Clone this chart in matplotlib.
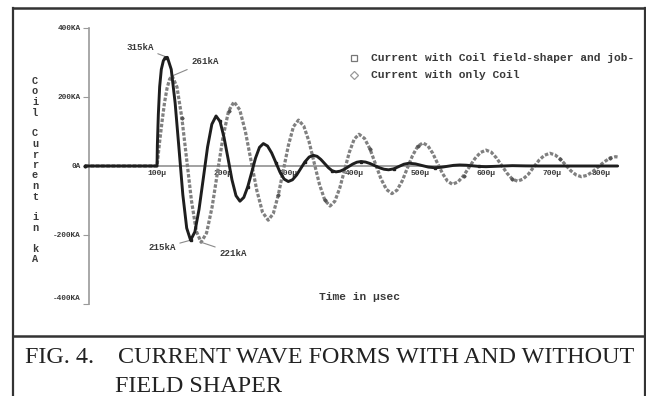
import matplotlib
matplotlib.use('Agg')
import matplotlib.pyplot as plt
from matplotlib.transforms import ScaledTranslation

# ---------------- data ----------------
t_shaper = [-9, 100, 100.5, 102, 104, 106.5, 109.6, 112.5, 115.7,
            121.6, 127.5, 133.4, 139.2, 145.1, 151,
            157.5, 163.9, 170.4, 176.8, 183.3, 189.7,
            195.8, 201.8, 207.9, 213.9, 220, 226,
            231.9, 237.9, 243.8, 249.7, 255.7, 261.6,
            267.9, 274.2, 280.6, 286.9, 293.2, 299.5,
            305.8, 312.2, 318.5, 324.8, 331.2, 337.5,
            343.3, 349, 354.8, 360.5, 366.3, 372,
            378.3, 384.7, 391, 397.3, 403.7, 410,
            417, 424, 431, 438, 445, 452,
            459.8, 467.5, 475.3, 483,
            492.8, 502.5, 512.3, 522,
            531.5, 541, 550.5, 560,
            570, 580, 590, 600, 620, 640, 660, 680, 800]
i_shaper = [0, 0, 60, 150, 230, 280, 305, 314, 315,
            280, 183, 50, -83, -180, -215,
            -191, -125, -35, 55, 121, 145,
            129, 83, 22, -40, -86, -102,
            -91, -60, -19, 23, 54, 65,
            58, 38, 10, -18, -38, -45,
            -40, -26, -7, 12, 26, 31,
            28, 19, 7, -5, -14, -17,
            -15, -9.5, -2, 5.5, 11, 13,
            11.4, 7, 1, -5, -9.4, -11,
            -8.2, -1.5, 5.2, 8,
            6.1, 1.5, -3.1, -5,
            -3.8, -1, 1.8, 3,
            2.3, 0.5, -1.3, -2, -0.5, 1, 0.3, 0, 0]

t_coil = [-9, 100, 103.8, 107.7, 111.5, 115.3, 119.2, 123,
          130.3, 137.7, 145, 152.3, 159.7, 167,
          175.3, 183.7, 192, 200.3, 208.7, 217,
          225.7, 234.3, 243, 251.7, 260.3, 269,
          276.7, 284.3, 292, 299.7, 307.3, 315,
          323, 331, 339, 347, 355, 363,
          370.3, 377.7, 385, 392.3, 399.7, 407,
          415.3, 423.7, 432, 440.3, 448.7, 457,
          464.8, 472.7, 480.5, 488.3, 496.2, 504,
          511.5, 519, 526.5, 534, 541.5, 549,
          557.5, 566, 574.5, 583, 591.5, 600,
          608, 616, 624, 632, 640, 648,
          656.2, 664.3, 672.5, 680.7, 688.8, 697,
          705, 713, 721, 729, 737, 745,
          753.7, 762.3, 771, 779.7, 788.3, 797, 800]
i_coil = [0, 0, 68, 130, 185, 226, 252, 261,
          229, 140, 20, -100, -189, -221,
          -194, -119, -17, 84, 159, 186,
          163, 100, 14, -71, -134, -157,
          -138, -84, -12, 60, 114, 133,
          116, 71, 8, -54, -99, -116,
          -102, -64, -12, 40, 78, 92,
          80, 49, 6, -37, -68, -80,
          -70, -43, -6, 30, 57, 67,
          59, 37, 7, -22, -44, -53,
          -46, -28, -3, 21, 39, 46,
          40, 23, 1, -21, -38, -44,
          -38, -24, -3, 17, 31, 37,
          32, 20, 3, -14, -26, -31,
          -27, -16, -2, 12, 23, 27, 26]

y_ticks = [-400, -200, 0, 200, 400]
y_tick_labels = ['-400KA', '-200KA', '0A', '200KA', '400KA']
x_ticks = [100, 200, 300, 400, 500, 600, 700, 800]
x_tick_labels = ['100µ', '200µ', '300µ', '400µ', '500µ', '600µ', '700µ', '800µ']

series_labels = ['Current with Coil field-shaper and job-', 'Current with only Coil']
peak_texts = ['315kA', '261kA', '215kA', '221kA']
peak_t = [115.7, 123, 151, 167]
peak_i = [315, 261, -215, -221]

# ---------------- figure ----------------
W, H = 646, 396
fig = plt.figure(figsize=(W / 100, H / 100), dpi=100)
fig.patch.set_facecolor('white')

def fx(px):
    return px / W

def fy(py):
    return 1 - py / H

MONO = ['Liberation Mono', 'DejaVu Sans Mono']
TXT = '#3a3a3a'

ax = fig.add_axes([fx(88.6), fy(304), (617.6 - 88.6) / W, (304 - 28) / H])
ax.set_xlim(-4, 800)
ax.set_ylim(-400, 400)
ax.patch.set_alpha(0)

for s in ['top', 'right']:
    ax.spines[s].set_visible(False)
ax.spines['left'].set_color('#9a9a9a')
ax.spines['left'].set_linewidth(1.2)
ax.spines['bottom'].set_position(('data', 0))
ax.spines['bottom'].set_color('#9a9a9a')
ax.spines['bottom'].set_linewidth(1.3)
ax.spines['bottom'].set_bounds(-4, 800)

ax.plot(t_coil, i_coil, color='#808080', lw=2.3, linestyle=(0, (1.1, 0.55)),
        marker='D', markersize=1.6, markevery=9, markerfacecolor='#555555',
        markeredgecolor='#555555', clip_on=False, zorder=3)
ax.plot(t_shaper, i_shaper, color='#1e1e1e', lw=2.1, solid_capstyle='round',
        solid_joinstyle='round',
        marker='s', markersize=1.8, markevery=7, clip_on=False, zorder=4)

ax.set_yticks(y_ticks)
ax.set_yticklabels(y_tick_labels)
ax.set_xticks(x_ticks)
ax.set_xticklabels(x_tick_labels)
ax.tick_params(axis='y', direction='out', length=4, width=0.8, color='#9a9a9a',
               pad=1.5, labelsize=5.6, labelcolor=TXT)
ax.tick_params(axis='x', direction='out', length=0, pad=3, labelsize=5.8,
               labelcolor=TXT)
for lab in ax.get_yticklabels() + ax.get_xticklabels():
    lab.set_fontfamily(MONO)
    lab.set_fontweight('bold')
# nudge the end labels as in the reference
ylabs = ax.get_yticklabels()
ylabs[0].set_transform(ylabs[0].get_transform() + ScaledTranslation(0, 7 / 100, fig.dpi_scale_trans))
xlabs = ax.get_xticklabels()
xlabs[-1].set_transform(xlabs[-1].get_transform() + ScaledTranslation(-16 / 100, 0, fig.dpi_scale_trans))

# peak annotations
text_pos = [(140, 47), (205, 62), (162, 248), (233, 253)]
for txt, tt, ii, (px, py) in zip(peak_texts, peak_t, peak_i, text_pos):
    ax.annotate(txt, xy=(tt, ii), xycoords='data',
                xytext=(px, H - py), textcoords='figure pixels',
                ha='center', va='center', fontsize=6.6, fontfamily=MONO,
                fontweight='bold', color=TXT,
                arrowprops=dict(arrowstyle='-', color='#8a8a8a', lw=0.8,
                                shrinkA=1, shrinkB=0))

# legend (drawn as text + markers)
fig.text(fx(371), fy(58), series_labels[0], fontsize=8.1, fontfamily=MONO,
         fontweight='bold', color=TXT, ha='left', va='center')
fig.text(fx(371), fy(75), series_labels[1], fontsize=8.1, fontfamily=MONO,
         fontweight='bold', color=TXT, ha='left', va='center')
fig.lines.append(plt.Line2D([fx(354)], [fy(58)], marker='s', markersize=4,
                            markerfacecolor='white', markeredgecolor='#777777',
                            markeredgewidth=0.9, transform=fig.transFigure))
fig.lines.append(plt.Line2D([fx(354)], [fy(75)], marker='D', markersize=3.6,
                            markerfacecolor='white', markeredgecolor='#999999',
                            markeredgewidth=0.9, transform=fig.transFigure))

# axis titles
fig.text(fx(319), fy(297), 'Time in µsec', fontsize=8.1, fontfamily=MONO,
         fontweight='bold', color=TXT, ha='left', va='center')
ylab_chars = ['C', 'o', 'i', 'l', '', 'C', 'u', 'r', 'r', 'e', 'n', 't', '',
              'i', 'n', '', 'k', 'A']
for k, ch in enumerate(ylab_chars):
    if ch:
        fig.text(fx(35), fy(81 + k * 10.5), ch, fontsize=7.4, fontfamily=MONO,
                 fontweight='bold', color=TXT, ha='center', va='center')

# frame
frame_c = '#333333'
fig.add_artist(plt.Line2D([fx(13.5), fx(13.5)], [fy(7.5), fy(400)], color=frame_c, lw=1.6))
fig.add_artist(plt.Line2D([fx(644.5), fx(644.5)], [fy(7.5), fy(400)], color=frame_c, lw=1.6))
fig.add_artist(plt.Line2D([fx(13.5), fx(644.5)], [fy(7.5), fy(7.5)], color=frame_c, lw=1.8))
fig.add_artist(plt.Line2D([fx(13.5), fx(644.5)], [fy(335.5), fy(335.5)], color=frame_c, lw=1.8))

# caption
SERIF = ['Liberation Serif', 'DejaVu Serif']
fig.text(fx(25), fy(363.3), 'FIG. 4.', fontsize=17.4, fontfamily=SERIF,
         color='#222222', ha='left', va='baseline')
fig.text(fx(118), fy(363.3), 'CURRENT WAVE FORMS WITH AND WITHOUT', fontsize=17.4,
         fontfamily=SERIF, color='#222222', ha='left', va='baseline')
fig.text(fx(115), fy(391.5), 'FIELD SHAPER', fontsize=17.4, fontfamily=SERIF,
         color='#222222', ha='left', va='baseline')

fig.savefig('out.png', dpi=100)
